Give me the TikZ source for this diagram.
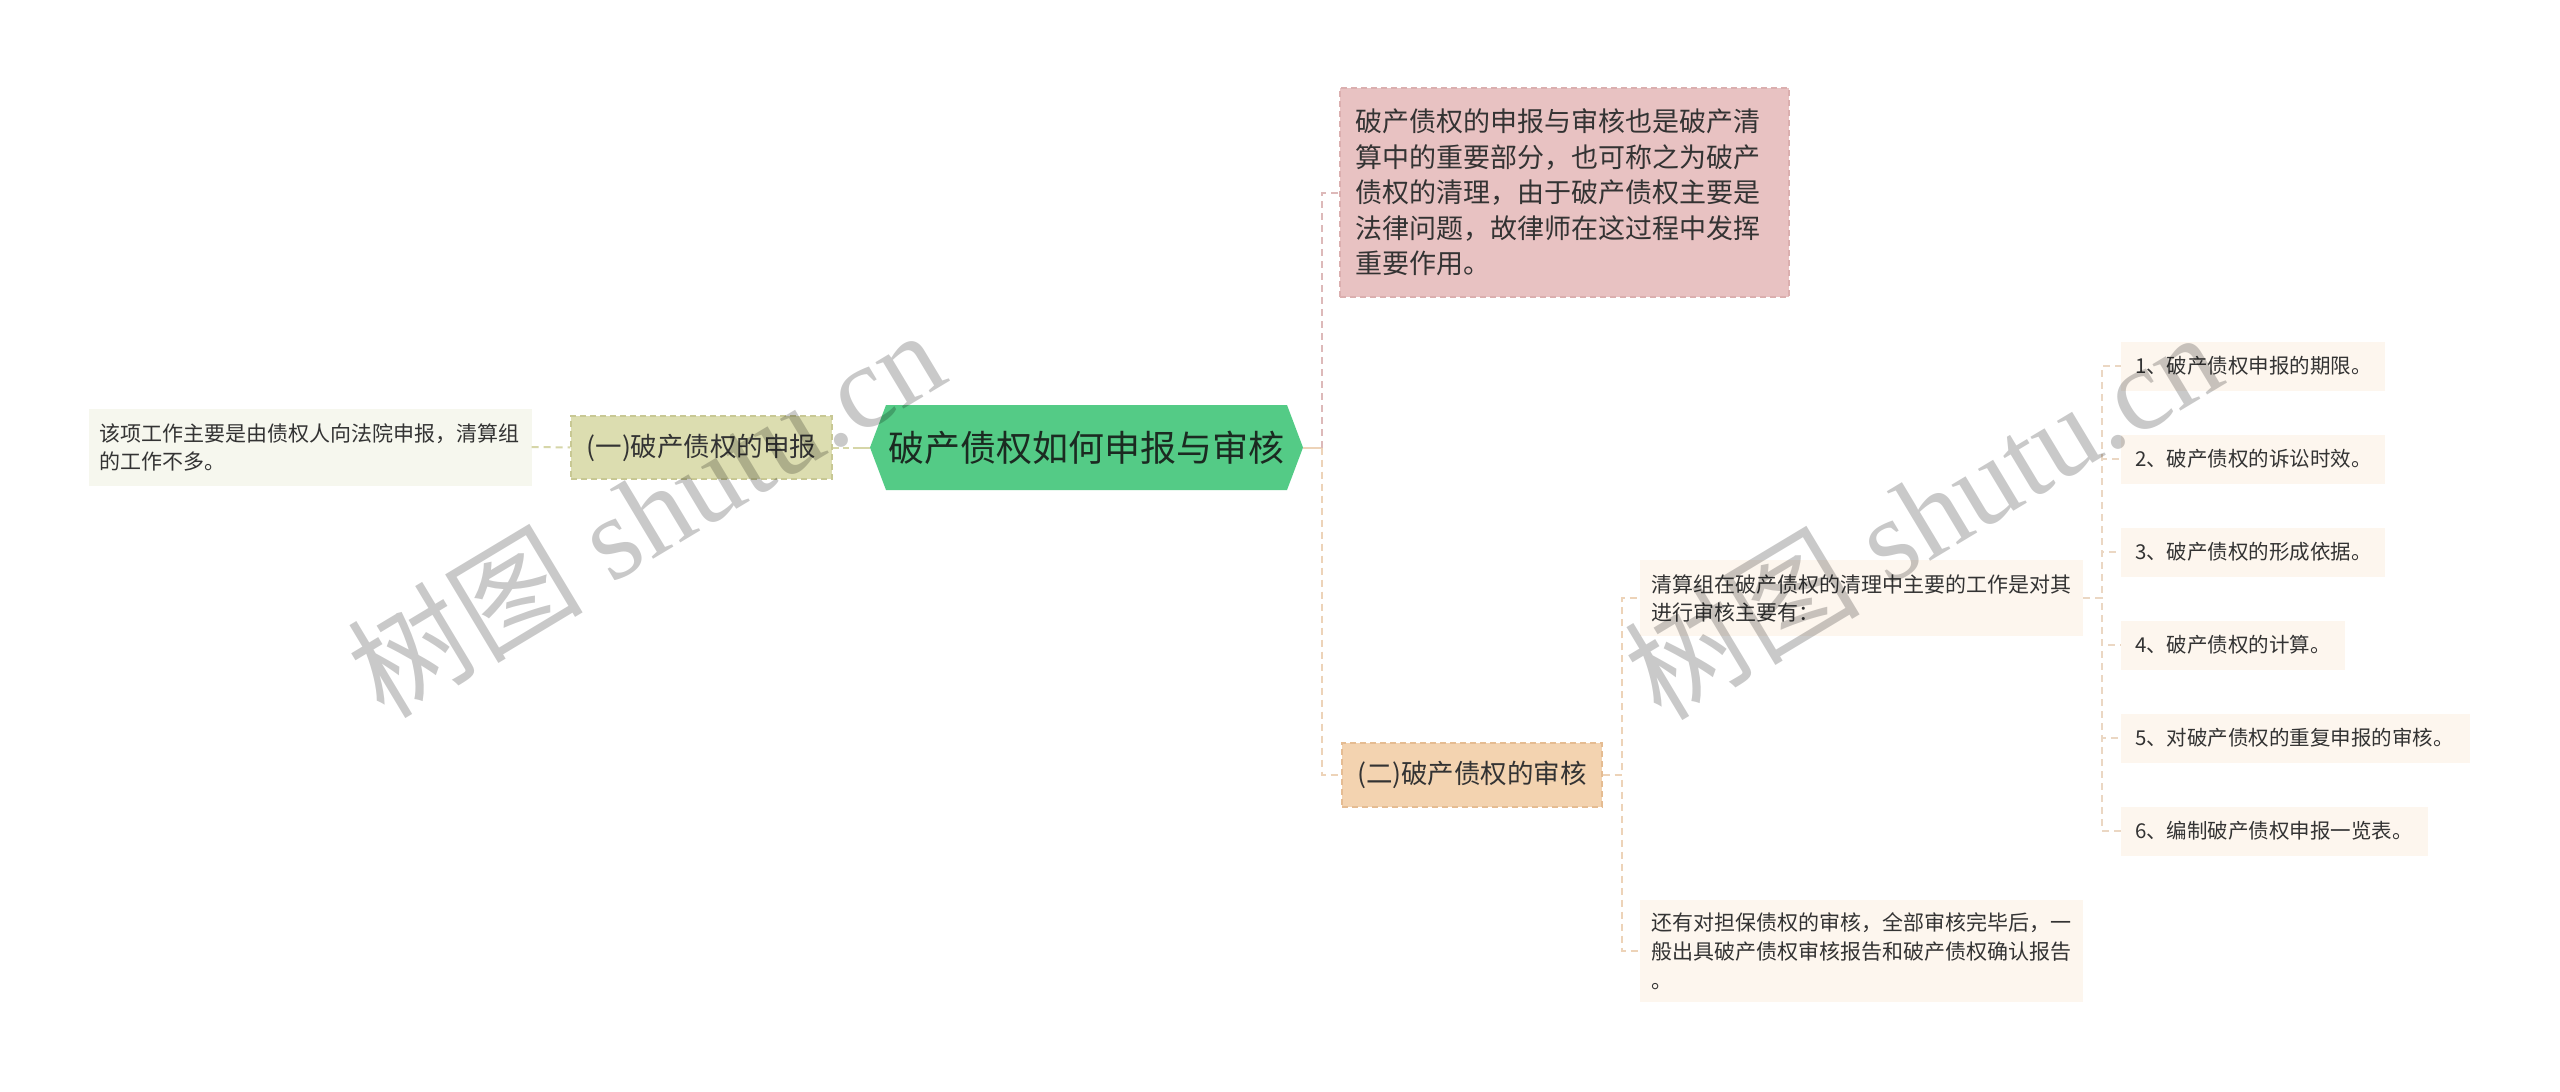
\documentclass[tikz,border=0pt]{standalone}
\usepackage{fontspec}
\setmainfont{Noto Sans CJK SC}
\newfontfamily\wmlatin{Liberation Serif}
\usetikzlibrary{calc}
\definecolor{rootgreen}{HTML}{54CB86}
\definecolor{roottext}{HTML}{1B2A21}
\definecolor{pinkfill}{HTML}{E8C2C2}
\definecolor{pinkline}{HTML}{DBAFAF}
\definecolor{pinkconn}{HTML}{DDB9B9}
\definecolor{olivefill}{HTML}{DCDDB0}
\definecolor{oliveline}{HTML}{C8C894}
\definecolor{oliveconn}{HTML}{D6D6A8}
\definecolor{leaffill}{HTML}{F6F7EE}
\definecolor{peachfill}{HTML}{F3D3B0}
\definecolor{peachline}{HTML}{E5BC92}
\definecolor{peachconn}{HTML}{EDD3B8}
\definecolor{subfill}{HTML}{FDF6EE}
\definecolor{subconn}{HTML}{EBD7C3}
\definecolor{textc}{HTML}{333333}
\begin{document}
\begin{tikzpicture}[x=1pt,y=-1pt,
  box/.style={rectangle, inner ysep=0pt, align=left, text=textc, anchor=center},
  firstlvl/.style={rectangle, inner sep=0pt, align=center, text=textc,
    font=\fontsize{26.5pt}{32pt}\selectfont, line width=1.5pt,
    dash pattern=on 6pt off 4pt},
  smalltext/.style={font=\fontsize{21pt}{28pt}\selectfont},
  itembox/.style={box, fill=subfill, inner xsep=14pt, minimum height=49pt,
    font=\fontsize{20.5pt}{26pt}\selectfont},
  conn/.style={line width=2pt, dash pattern=on 7pt off 5pt},
  wm/.style={rotate=31, text=black, text opacity=0.21, inner sep=0pt}
]
\fill[white] (0,0) rectangle (2560,1092);
\useasboundingbox (0,0) rectangle (2560,1092);

% root hexagon
\fill[rootgreen] (870,447.5) -- (886,405) -- (1287,405) -- (1303,447.5) -- (1287,490) -- (886,490) -- cycle;
\node[inner sep=0pt, minimum width=433pt, minimum height=85pt, text=roottext,
  font=\fontsize{36pt}{40pt}\selectfont] (root) at (1086.5,447.5) {破产债权如何申报与审核};

% left branch
\node[firstlvl, fill=olivefill, draw=oliveline, minimum width=261pt, minimum height=63pt]
  (n1) at (701.5,447.5) {(一)破产债权的申报};
\node[box, smalltext, fill=leaffill, inner xsep=11pt, text width=421pt, minimum height=77pt]
  (leaf) at (310,447) {该项工作主要是由债权人向法院申报，清算组\\的工作不多。};

% right branch
\node[box, fill=pinkfill, draw=pinkline, line width=1.5pt, dash pattern=on 6pt off 4pt,
  inner xsep=15pt, text width=419pt, minimum height=209pt,
  font=\fontsize{27pt}{35.5pt}\selectfont]
  (desc) at (1564.5,192.5) {破产债权的申报与审核也是破产清\\算中的重要部分，也可称之为破产\\债权的清理，由于破产债权主要是\\法律问题，故律师在这过程中发挥\\重要作用。};
\node[firstlvl, fill=peachfill, draw=peachline, minimum width=260pt, minimum height=64pt]
  (n2) at (1472,775) {(二)破产债权的审核};

\node[box, smalltext, fill=subfill, inner xsep=11pt, text width=421pt, minimum height=76pt]
  (sub1) at (1861.5,598) {清算组在破产债权的清理中主要的工作是对其\\进行审核主要有：};
\node[box, fill=subfill, inner xsep=11pt, text width=421pt, minimum height=102pt,
  font=\fontsize{21pt}{29pt}\selectfont]
  (sub2) at (1861.5,951) {还有对担保债权的审核，全部审核完毕后，一\\般出具破产债权审核报告和破产债权确认报告\\。};

\node[itembox, text width=236pt] (i1) at (2253,366) {1、破产债权申报的期限。};
\node[itembox, text width=236pt] (i2) at (2253,459) {2、破产债权的诉讼时效。};
\node[itembox, text width=236pt] (i3) at (2253,552) {3、破产债权的形成依据。};
\node[itembox, text width=196pt] (i4) at (2233,645) {4、破产债权的计算。};
\node[itembox, text width=321pt] (i5) at (2295.5,738) {5、对破产债权的重复申报的审核。};
\node[itembox, text width=279pt] (i6) at (2274.5,831) {6、编制破产债权申报一览表。};

% connectors
\draw[conn, oliveconn] (leaf.east) -- (n1.west);
\draw[oliveconn, line width=2pt, dash pattern=on 6pt off 4pt on 6pt off 4pt on 200pt off 1pt] (n1.east) -- (root.west);

\coordinate (rj) at (1322,447.5);
\draw[line width=2pt, peachconn] (root.east) -- (rj);
\draw[conn, pinkconn] (rj) |- (desc.west);
\draw[conn, peachconn] (rj) |- (n2.west);

\coordinate (j2) at (1622,775);
\draw[conn, peachconn] (n2.east) -- (j2) |- (sub1.west);
\draw[conn, peachconn] (n2.east) -- (j2) |- (sub2.west);

\coordinate (j3) at (2102,598);
\foreach \i in {i1,i2,i3,i4,i5,i6}
  \draw[conn, subconn] (sub1.east) -- (j3) |- (\i.west);

% watermarks
\node[wm] (wm1) at (645,512) {\fontsize{118pt}{124pt}\selectfont 树图{\wmlatin\ shutu.cn}};
\node[wm] (wm2) at (1922,514) {\fontsize{118pt}{124pt}\selectfont 树图{\wmlatin\ shutu.cn}};
\end{tikzpicture}
\end{document}
